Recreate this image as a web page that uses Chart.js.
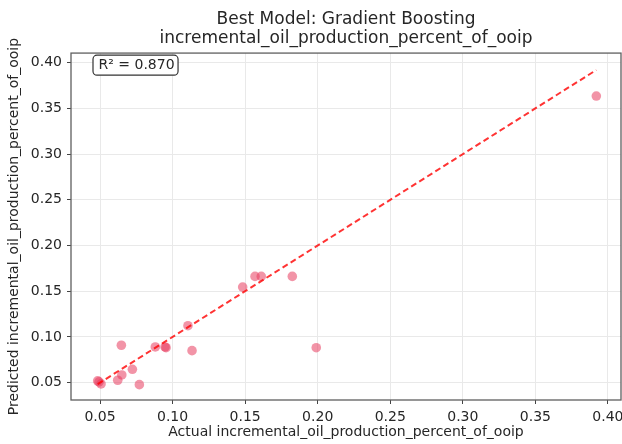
<!DOCTYPE html>
<html lang="es">
<head>
<meta charset="utf-8">
<title>Best Model: Gradient Boosting</title>
<script src="https://cdn.jsdelivr.net/npm/chart.js@4.4.1/dist/chart.umd.min.js"></script>
<style>
  html, body { margin: 0; padding: 0; background: #fff; }
  #caja { width: 622px; height: 444px; }
</style>
</head>
<body>
<div id="caja"><canvas id="grafico"></canvas></div>
<script>
const REAL     = [0.0484, 0.0507, 0.0493, 0.0647, 0.0650, 0.0622, 0.0723, 0.0771, 0.0881, 0.0955,
                  0.0948, 0.1106, 0.1134, 0.1483, 0.1568, 0.1611, 0.1825, 0.1990, 0.3920];
const PREDICHO = [0.0519, 0.0486, 0.0508, 0.0909, 0.0584, 0.0526, 0.0646, 0.0478, 0.0890, 0.0882,
                  0.0890, 0.1123, 0.0850, 0.1545, 0.1662, 0.1662, 0.1662, 0.0882, 0.3635];

const TICKS_X = [0.05, 0.10, 0.15, 0.20, 0.25, 0.30, 0.35, 0.40];
const TICKS_Y = [0.05, 0.10, 0.15, 0.20, 0.25, 0.30, 0.35, 0.40];
const RANGO_X = [0.030, 0.409];
const RANGO_Y = [0.031, 0.4105];

const R2 = 0.870;
const TITULO = ['Best Model: Gradient Boosting', 'incremental_oil_production_percent_of_ooip'];
const ETIQUETA_X = 'Actual incremental_oil_production_percent_of_ooip';
const ETIQUETA_Y = 'Predicted incremental_oil_production_percent_of_ooip';

const FUENTE = '"DejaVu Sans", sans-serif';
const TEXTO = '#262626';
const REJILLA = '#e9e9e9';
const MARCO = '#5f5f5f';

// Línea de referencia y = x entre el mínimo y el máximo real.
const minReal = Math.min(...REAL);
const maxReal = Math.max(...REAL);

Chart.defaults.scale.ticks.padding = 5;

/* Chart.js reserva medio rótulo "0.40" a la derecha; aquí el área llega
 * hasta el borde (como en el original, donde el rótulo queda cortado). */
const areaHastaElBorde = {
  id: 'areaHastaElBorde',
  afterLayout(chart) {
    const derecha = chart.width - 1;
    const x = chart.scales.x;
    x.right = derecha;
    x.width = x.right - x.left;
    x.configure();
    chart.chartArea.right = derecha;
    chart.chartArea.width = derecha - chart.chartArea.left;
    const t = chart.titleBlock;
    if (t) { t.left = chart.chartArea.left; t.right = derecha; t.width = derecha - t.left; }
  },
};

/* Marco completo (los cuatro lados) y la caja con el R². */
const marcoYAnotacion = {
  id: 'marcoYAnotacion',
  afterDatasetsDraw(chart) {
    const { ctx, chartArea: a } = chart;
    ctx.save();
    ctx.strokeStyle = MARCO;
    ctx.lineWidth = 1.3;
    ctx.strokeRect(a.left, a.top, a.right - a.left, a.bottom - a.top);
    ctx.restore();
  },
  afterDraw(chart) {
    const { ctx, chartArea: a } = chart;
    const texto = 'R² = ' + R2.toFixed(3);
    ctx.save();
    ctx.font = '14px ' + FUENTE;
    const x = a.left + 0.05 * (a.right - a.left);
    const y = a.top + 0.035 * (a.bottom - a.top);
    const ancho = ctx.measureText(texto).width;
    ctx.beginPath();
    ctx.roundRect(x - 5.5, y - 10, ancho + 9, 20, 4);
    ctx.fillStyle = '#ffffff';
    ctx.fill();
    ctx.strokeStyle = '#333333';
    ctx.lineWidth = 1.2;
    ctx.stroke();
    ctx.fillStyle = TEXTO;
    ctx.textBaseline = 'middle';
    ctx.textAlign = 'left';
    ctx.fillText(texto, x, y + 0.5);
    ctx.restore();
  },
};

const ejeComun = (ticks) => ({
  type: 'linear',
  afterBuildTicks: (s) => { s.ticks = ticks.map((v) => ({ value: v })); },
  ticks: {
    callback: (v) => Number(v).toFixed(2),
    font: { family: FUENTE, size: 14 },
    color: TEXTO,
    autoSkip: false,
    maxRotation: 0,
  },
  grid: { color: REJILLA, lineWidth: 1, tickLength: 4, tickColor: '#444444' },
  border: { display: false },
});

new Chart(document.getElementById('grafico'), {
  type: 'scatter',
  data: {
    datasets: [
      {
        type: 'line',
        data: [{ x: minReal, y: minReal }, { x: maxReal, y: maxReal }],
        borderColor: 'rgba(255,0,0,0.8)',
        borderWidth: 2,
        borderDash: [6, 3.5],
        pointRadius: 0,
        fill: false,
        order: 0,
      },
      {
        data: REAL.map((x, i) => ({ x, y: PREDICHO[i] })),
        backgroundColor: 'rgba(232,60,95,0.55)',
        borderWidth: 0,
        pointRadius: 4.8,
        order: 1,
      },
    ],
  },
  options: {
    responsive: true,
    maintainAspectRatio: false,
    animation: false,
    devicePixelRatio: 1,
    layout: { padding: 0 },
    plugins: {
      legend: { display: false },
      tooltip: { enabled: false },
      title: {
        display: true,
        text: TITULO,
        fullSize: false,
        color: TEXTO,
        font: { family: FUENTE, size: 17, weight: 'normal', lineHeight: 1.12 },
        padding: { top: 10.5, bottom: 4.5 },
      },
    },
    scales: {
      x: Object.assign(ejeComun(TICKS_X), {
        position: 'bottom',
        min: RANGO_X[0],
        max: RANGO_X[1],
        title: {
          display: true, text: ETIQUETA_X, color: TEXTO,
          font: { family: FUENTE, size: 14 }, padding: { top: 0, bottom: 3 },
        },
        afterFit: (s) => { s.height = 44; s.paddingLeft = 0; s.paddingRight = 0; },
      }),
      y: Object.assign(ejeComun(TICKS_Y), {
        position: 'left',
        min: RANGO_Y[0],
        max: RANGO_Y[1],
        title: {
          display: true, text: ETIQUETA_Y, color: TEXTO,
          font: { family: FUENTE, size: 14 }, padding: { top: 6, bottom: 0 },
        },
        afterFit: (s) => { s.width = 71; s.paddingTop = 0; s.paddingBottom = 0; },
      }),
    },
  },
  plugins: [areaHastaElBorde, marcoYAnotacion],
});
</script>
</body>
</html>
